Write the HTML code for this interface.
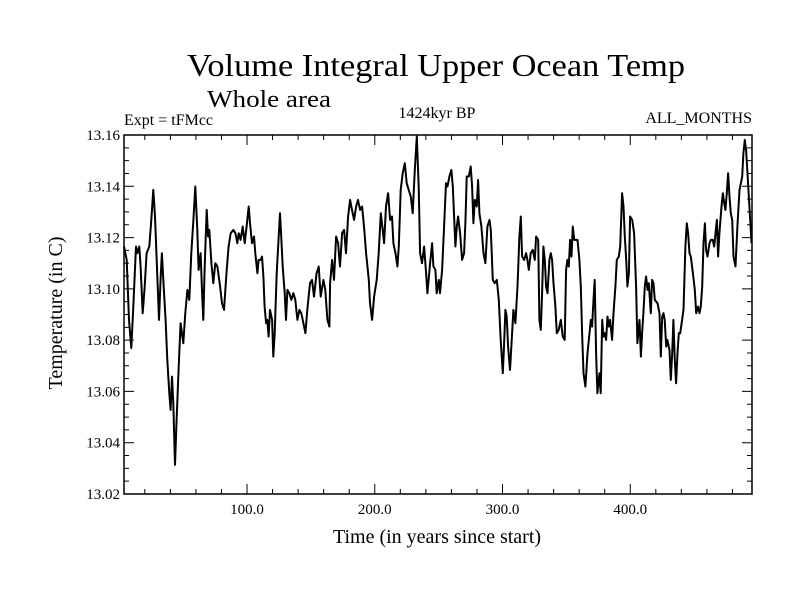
<!DOCTYPE html>
<html><head><meta charset="utf-8"><style>
html,body{margin:0;padding:0;background:#fff;}
svg{display:block;font-family:"Liberation Serif",serif;}
</style></head><body>
<svg id="chart" width="800" height="600">
<rect width="800" height="600" fill="#fff"/>
<text x="436" y="76" font-size="32" text-anchor="middle" textLength="498" lengthAdjust="spacingAndGlyphs">Volume Integral Upper Ocean Temp</text>
<text x="207" y="107" font-size="24" textLength="124" lengthAdjust="spacingAndGlyphs">Whole area</text>
<text x="124" y="125" font-size="16">Expt = tFMcc</text>
<text x="437" y="118" font-size="16" text-anchor="middle">1424kyr BP</text>
<text x="752" y="123" font-size="16" text-anchor="end">ALL_MONTHS</text>
<text x="437" y="543" font-size="20" text-anchor="middle">Time (in years since start)</text>
<text transform="translate(62,313) rotate(-90)" font-size="20" text-anchor="middle">Temperature (in C)</text>
<g id="axes"></g>
<path id="line" fill="none" stroke="#000" stroke-width="2" stroke-linejoin="round"/>
<rect x="124" y="135" width="628" height="359" fill="none" stroke="#000" stroke-width="1.5"/>
</svg>
<script>
const years=[3.7,5.8,7.6,9.4,11.0,13.1,14.1,15.7,16.7,18.3,19.9,21.4,23.5,25.1,26.6,28.0,29.3,31.1,32.4,33.4,34.5,36.3,37.6,39.2,40.2,41.3,42.3,43.6,44.9,46.5,48.0,50.1,51.7,53.3,54.8,56.4,58.0,59.5,61.1,62.1,63.7,64.8,65.8,66.8,68.4,69.5,70.5,72.1,73.6,75.2,76.8,78.9,80.4,82.0,84.1,85.6,87.2,89.3,90.9,92.4,93.5,95.0,96.6,98.2,99.7,101.3,102.3,103.9,105.5,106.5,108.1,109.1,110.7,111.7,112.8,113.8,114.9,115.9,116.9,118.0,119.6,120.6,121.7,123.2,124.8,125.8,126.9,127.9,129.5,130.5,131.6,133.1,134.7,136.3,137.8,139.4,141.0,142.5,144.1,145.7,147.2,149.3,150.9,152.4,154.5,156.1,157.7,159.8,161.3,162.9,164.5,
165.0,166.6,168.1,169.7,171.3,172.8,174.4,176.0,177.5,179.1,180.7,182.2,183.8,185.4,186.9,188.5,190.1,191.6,193.2,195.3,196.3,197.9,199.5,201.5,203.1,204.7,206.2,207.3,208.8,210.4,212.0,213.5,214.6,216.2,217.7,218.8,220.3,221.9,223.5,225.0,226.6,228.2,229.7,231.3,232.9,234.4,235.5,237.0,238.6,240.2,241.2,243.3,244.9,245.9,247.5,248.5,250.1,251.1,252.7,254.3,255.8,256.9,258.4,260.0,261.1,262.1,263.1,264.2,265.2,266.8,268.4,269.9,271.0,272.0,273.6,275.1,276.2,277.2,278.3,279.8,280.9,281.9,283.5,285.1,286.6,288.2,289.8,290.8,292.4,293.9,295.5,297.1,298.6,300.2,301.2,302.3,303.3,304.4,305.9,307.5,308.5,310.1,311.7,313.2,314.3,315.3,316.9,318.5,319.5,320.6,322.1,323.7,325.3,326.3,327.9,328.9,
330.0,331.0,332.0,333.1,334.1,335.2,336.7,337.8,338.8,339.9,341.4,342.5,344.0,345.6,347.2,348.7,349.8,350.8,351.9,352.9,354.0,355.0,356.1,357.1,358.7,360.2,361.3,362.3,363.4,364.9,366.5,368.1,369.1,370.1,371.2,372.2,373.3,374.3,375.9,376.9,378.0,379.0,380.1,381.1,382.2,383.2,384.2,385.8,386.9,388.4,389.5,391.0,392.1,393.6,394.7,395.7,396.8,397.8,398.9,399.9,401.5,403.0,404.6,405.6,407.2,408.3,409.3,410.3,411.4,412.4,413.5,414.5,416.1,417.1,418.2,419.2,421.3,422.9,423.9,425.0,426.0,427.0,428.1,429.1,430.7,431.7,432.8,433.8,434.9,435.9,437.0,438.0,439.1,440.6,441.7,443.2,444.3,445.3,446.4,447.4,449.0,450.5,451.6,453.1,454.2,455.2,456.3,457.3,458.4,459.4,460.5,462.0,463.1,464.6,465.7,466.7,467.8,468.8,469.8,471.4,472.5,473.5,474.5,475.6,476.6,477.7,478.7,479.8,480.8,482.4,483.9,485.5,486.6,487.6,488.6,489.7,490.7,491.8,492.8,493.9,494.9];
const temps=[13.1165,13.1113,13.0879,13.0769,13.0931,13.1165,13.1139,13.1165,13.1087,13.0905,13.1009,13.1139,13.1165,13.1269,13.1386,13.1282,13.1113,13.0879,13.1048,13.1139,13.1035,13.0879,13.0723,13.0593,13.0528,13.0658,13.0554,13.0314,13.0489,13.0697,13.0866,13.0788,13.0905,13.0996,13.0957,13.1139,13.1269,13.1399,13.1230,13.1074,13.1139,13.0983,13.0879,13.1074,13.1308,13.1204,13.1230,13.1100,13.1022,13.1100,13.1087,13.1009,13.0944,13.0918,13.1074,13.1165,13.1217,13.1230,13.1217,13.1178,13.1217,13.1191,13.1243,13.1178,13.1243,13.1321,13.1256,13.1178,13.1204,13.1139,13.1061,13.1113,13.1113,13.1126,13.1048,13.0931,13.0866,13.0879,13.0814,13.0918,13.0879,13.0736,13.0827,13.1061,13.1204,13.1295,13.1191,13.1087,13.0983,13.0879,13.0996,13.0983,13.0957,13.0983,13.0957,13.0879,13.0918,13.0905,13.0866,13.0827,13.0918,13.1022,13.1035,13.0970,13.1061,13.1087,13.0970,13.1035,13.0996,13.0879,13.0853,
13.1022,13.1113,13.1035,13.1204,13.1178,13.1087,13.1217,13.1230,13.1139,13.1282,13.1347,13.1308,13.1269,13.1321,13.1347,13.1308,13.1321,13.1243,13.1139,13.1035,13.0944,13.0879,13.0970,13.1035,13.1139,13.1295,13.1230,13.1178,13.1321,13.1373,13.1269,13.1282,13.1178,13.1139,13.1087,13.1165,13.1386,13.1451,13.1490,13.1412,13.1386,13.1360,13.1295,13.1464,13.1594,13.1399,13.1139,13.1100,13.1165,13.1061,13.0983,13.1100,13.1178,13.1087,13.1074,13.0983,13.1035,13.0983,13.1074,13.1243,13.1412,13.1399,13.1438,13.1464,13.1399,13.1282,13.1165,13.1243,13.1282,13.1217,13.1113,13.1139,13.1269,13.1438,13.1438,13.1477,13.1399,13.1256,13.1347,13.1321,13.1425,13.1295,13.1243,13.1139,13.1100,13.1243,13.1269,13.1230,13.1035,13.1022,13.1035,13.0957,13.0801,13.0671,13.0775,13.0918,13.0892,13.0775,13.0684,13.0827,13.0918,13.0866,13.1009,13.1204,13.1282,13.1126,13.1113,13.1139,13.1113,13.1074,13.1139,13.1152,13.1113,13.1204,13.1191,13.0879,
13.0840,13.0983,13.1165,13.1113,13.1009,13.0983,13.1113,13.1139,13.1113,13.1022,13.0931,13.0827,13.0840,13.0879,13.0814,13.0801,13.1074,13.1113,13.1087,13.1191,13.1126,13.1243,13.1191,13.1191,13.1191,13.1113,13.1009,13.0827,13.0671,13.0619,13.0749,13.0827,13.0879,13.0853,13.0957,13.1035,13.0749,13.0593,13.0671,13.0593,13.0879,13.0814,13.0827,13.0801,13.0892,13.0853,13.0879,13.0801,13.0905,13.1009,13.1113,13.1126,13.1165,13.1373,13.1321,13.1204,13.1113,13.1009,13.1061,13.1282,13.1269,13.1217,13.1009,13.0788,13.0879,13.0736,13.0827,13.0905,13.1009,13.1048,13.0996,13.1022,13.0905,13.1035,13.1022,13.0957,13.0944,13.0905,13.0736,13.0892,13.0905,13.0879,13.0775,13.0801,13.0762,13.0645,13.0749,13.0879,13.0723,13.0632,13.0749,13.0827,13.0827,13.0879,13.0918,13.1165,13.1256,13.1217,13.1139,13.1126,13.1061,13.0996,13.0905,13.0931,13.0905,13.0931,13.1009,13.1178,13.1256,13.1152,13.1126,13.1178,13.1191,13.1191,13.1165,13.1217,13.1269,13.1126,13.1217,13.1321,13.1373,13.1334,13.1308,13.1373,13.1451,13.1360,13.1295,13.1269,13.1126,13.1087,13.1243,13.1386,13.1412,13.1438,13.1529,13.1581,13.1542,13.1451,13.1360,13.1269,13.1178];
const xTickLabels=["100.0","200.0","300.0","400.0"];
const xTickValues=[100,200,300,400];
const yTickLabels=["13.02","13.04","13.06","13.08","13.10","13.12","13.14","13.16"];
const yTickValues=[13.02,13.04,13.06,13.08,13.10,13.12,13.14,13.16];

const L=124,R=752,T=135,B=494,X0=3.7,X1=495.3,Y0=13.02,Y1=13.16;
function xs(v){return L+(v-X0)/(X1-X0)*(R-L);}
function ys(v){return B-(v-Y0)/(Y1-Y0)*(B-T);}
const NS="http://www.w3.org/2000/svg";
const ax=document.getElementById('axes');
let d="";
function tick(x1,y1,x2,y2){d+="M"+x1+","+y1+"L"+x2+","+y2;}
for(let v=20;v<X1;v+=20){const x=xs(v);const maj=v%100===0;const len=maj?10:5;tick(x,B,x,B-len);tick(x,T,x,T+len);}
for(let i=0;i<=28;i++){const v=Y0+i*0.005;const y=ys(v);const maj=i%4===0;const len=maj?10:5;tick(L,y,L+len,y);tick(R,y,R-len,y);}
const tp=document.createElementNS(NS,'path');
tp.setAttribute('d',d);tp.setAttribute('stroke','#000');tp.setAttribute('stroke-width','1');


ax.appendChild(tp);
xTickValues.forEach((v,i)=>{const t=document.createElementNS(NS,'text');
t.setAttribute('x',xs(v));t.setAttribute('y',B+20);t.setAttribute('font-size','15');t.setAttribute('text-anchor','middle');
t.textContent=xTickLabels[i];


ax.appendChild(t);});
yTickValues.forEach((v,i)=>{const t=document.createElementNS(NS,'text');
t.setAttribute('x',L-4);t.setAttribute('y',ys(v)+5);t.setAttribute('font-size','15');t.setAttribute('text-anchor','end');
t.textContent=yTickLabels[i];


ax.appendChild(t);});
let p="";
years.forEach((v,i)=>{p+=(i?"L":"M")+xs(v).toFixed(1)+","+ys(temps[i]).toFixed(1);});
document.getElementById('line').setAttribute('d',p);
</script>
</body></html>
